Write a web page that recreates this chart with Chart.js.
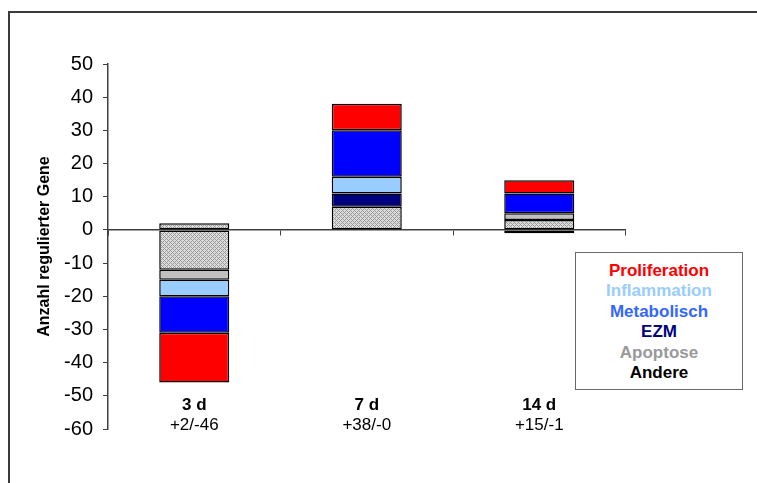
<!DOCTYPE html>
<html>
<head>
<meta charset="utf-8">
<script src="https://cdn.jsdelivr.net/npm/chart.js@4/dist/chart.umd.min.js"></script>
<style>
  html, body { margin: 0; padding: 0; background: #fff; }
  #wrap { position: relative; width: 757px; height: 483px; overflow: hidden; font-family: "Liberation Sans", Arial, sans-serif; }
  #frame { position: absolute; left: 8px; top: 11px; width: 900px; height: 600px; border-left: 2px solid #3a3a3a; border-top: 2px solid #3a3a3a; pointer-events: none; }
  #legend { position: absolute; left: 575px; top: 252px; width: 168px; height: 138px; border: 1px solid #6a6a6a; box-sizing: border-box; background: #fff; padding-top: 8px; text-align: center; font-weight: bold; font-size: 17px; line-height: 20.4px; }
  canvas { position: absolute; left: 0; top: 0; }
</style>
</head>
<body>
<div id="wrap">
  <canvas id="chart" width="757" height="483"></canvas>
  <div id="frame"></div>
  <div id="legend"></div>
</div>
<script>
// Time points and their up/down totals
const days = ['3 d', '7 d', '14 d'];
const totals = ['+2/-46', '+38/-0', '+15/-1'];

// Regulated genes per functional group: upregulated (positive) and downregulated (negative)
const andereUp = [2, 7, 3];
const andereDown = [-12, 0, 0];
const apoptoseUp = [0, 0, 2];
const apoptoseDown = [-3, 0, -1];
const ezmUp = [0, 4, 0];
const ezmDown = [0, 0, 0];
const inflammationUp = [0, 5, 0];
const inflammationDown = [-5, 0, 0];
const metabolischUp = [0, 14, 6];
const metabolischDown = [-11, 0, 0];
const proliferationUp = [0, 8, 4];
const proliferationDown = [-15, 0, 0];

const yTicks = { min: -60, max: 50, step: 10 };

// Legend entries, top to bottom
const legendOrder = ['Proliferation', 'Inflammation', 'Metabolisch', 'EZM', 'Apoptose', 'Andere'];

// Fine grey cross-hatch used for "Andere"
function makeHatch() {
  const c = document.createElement('canvas');
  c.width = 4; c.height = 4;
  const g = c.getContext('2d');
  g.fillStyle = '#dcdcdc';
  g.fillRect(0, 0, 4, 4);
  g.fillStyle = '#9a9a9a';
  for (let x = 0; x < 4; x++) {
    for (let y = 0; y < 4; y++) {
      if ((x + y) % 4 === 0 || ((x - y) + 4) % 4 === 0) g.fillRect(x, y, 1, 1);
    }
  }
  return document.getElementById('chart').getContext('2d').createPattern(c, 'repeat');
}
const hatch = makeHatch();

// Stack order from the zero line outwards
const groups = [
  { label: 'Andere', up: andereUp, down: andereDown, fill: hatch, text: '#000000' },
  { label: 'Apoptose', up: apoptoseUp, down: apoptoseDown, fill: '#c0c0c0', text: '#999999' },
  { label: 'EZM', up: ezmUp, down: ezmDown, fill: '#000080', text: '#000080' },
  { label: 'Inflammation', up: inflammationUp, down: inflammationDown, fill: '#99ccff', text: '#99ccff' },
  { label: 'Metabolisch', up: metabolischUp, down: metabolischDown, fill: '#0000ff', text: '#3366ff' },
  { label: 'Proliferation', up: proliferationUp, down: proliferationDown, fill: '#ff0000', text: '#ff0000' }
];

const datasets = [];
groups.forEach(g => {
  [g.up, g.down].forEach(vals => {
    datasets.push({
      label: g.label,
      data: vals.map(v => (v === 0 ? null : v)),
      backgroundColor: g.fill,
      borderColor: '#000000',
      borderWidth: 1.5,
      borderSkipped: false,
      barPercentage: 0.406,
      categoryPercentage: 1.0
    });
  });
});

// Legend box: text only, in the group colours
const legendEl = document.getElementById('legend');
legendOrder.forEach(name => {
  const g = groups.find(k => k.label === name);
  const d = document.createElement('div');
  d.textContent = g.label;
  d.style.color = g.text;
  legendEl.appendChild(d);
});

// Day labels and totals under each bar
const categoryLabels = {
  id: 'categoryLabels',
  afterDraw(chart) {
    const ctx = chart.ctx;
    const x = chart.scales.x;
    ctx.save();
    ctx.fillStyle = '#000';
    ctx.textAlign = 'center';
    ctx.textBaseline = 'middle';
    days.forEach((d, i) => {
      const px = x.getPixelForValue(i);
      ctx.font = 'bold 17px "Liberation Sans", Arial, sans-serif';
      ctx.fillText(d, px, 405);
      ctx.font = '17px "Liberation Sans", Arial, sans-serif';
      ctx.fillText(totals[i], px, 425);
    });
    ctx.restore();
  }
};

Chart.defaults.font.family = '"Liberation Sans", Arial, sans-serif';
Chart.defaults.color = '#000';

new Chart(document.getElementById('chart'), {
  type: 'bar',
  data: { labels: days, datasets },
  plugins: [categoryLabels],
  options: {
    responsive: false,
    animation: false,
    layout: { padding: { left: 0, top: 64, right: 131.5, bottom: 54 } },
    plugins: { legend: { display: false }, tooltip: { enabled: false } },
    scales: {
      x: {
        stacked: true,
        position: { y: 0 },
        afterFit: s => { s.height = 0; },
        ticks: { display: false },
        grid: { display: true, offset: true, drawOnChartArea: false, drawTicks: true, tickLength: 5, color: '#404040', lineWidth: 1 },
        border: { display: true, color: '#404040', width: 1.5 }
      },
      y: {
        stacked: true,
        min: yTicks.min,
        max: yTicks.max,
        afterFit: s => { s.width = 108; },
        ticks: { stepSize: yTicks.step, padding: 10, font: { size: 20 }, color: '#000' },
        grid: { drawOnChartArea: false, drawTicks: true, tickLength: 5, color: '#404040', lineWidth: 1 },
        border: { display: true, color: '#404040', width: 1.5 },
        title: { display: true, text: 'Anzahl regulierter Gene', font: { size: 16, weight: 'bold' }, color: '#000', padding: { top: 35, bottom: 0 } }
      }
    }
  }
});
</script>
</body>
</html>
